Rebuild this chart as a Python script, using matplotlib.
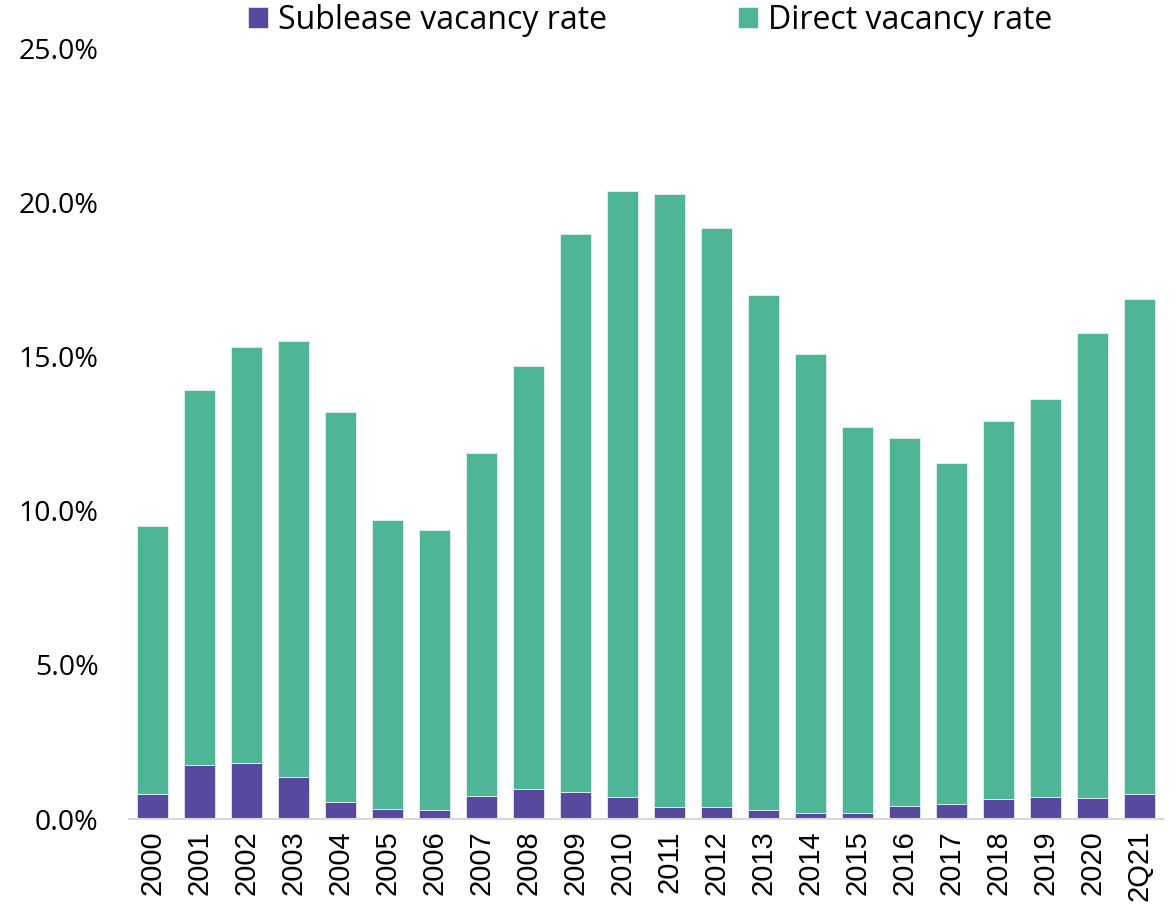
import numpy as np
import matplotlib.pyplot as plt
from matplotlib.ticker import FuncFormatter

years = ['2000', '2001', '2002', '2003', '2004', '2005', '2006', '2007', '2008', '2009', '2010',
         '2011', '2012', '2013', '2014', '2015', '2016', '2017', '2018', '2019', '2020', '2Q21']
total = [9.50, 13.90, 15.30, 15.50, 13.20, 9.70, 9.37, 11.87, 14.69, 18.97, 20.36,
         20.27, 19.16, 16.99, 15.08, 12.71, 12.35, 11.54, 12.90, 13.62, 15.76, 16.86]
sublease = [0.81, 1.75, 1.82, 1.36, 0.55, 0.32, 0.29, 0.75, 0.97, 0.88, 0.71,
            0.39, 0.39, 0.29, 0.20, 0.20, 0.42, 0.49, 0.65, 0.71, 0.68, 0.81]
direct = [t - s for t, s in zip(total, sublease)]

purple = '#574A9E'
green = '#4FB597'

fig = plt.figure(figsize=(11.75, 9.08), dpi=100)
ax = fig.add_axes([0.110, 0.098, 0.880, 0.849])

x = np.arange(len(years))
ax.bar(x, np.array(sublease) / 100, 0.66, color=purple, edgecolor='#E6E6F0', linewidth=0.6,
       label='Sublease vacancy rate')
ax.bar(x, np.array(direct) / 100, 0.66, bottom=np.array(sublease) / 100, color=green,
       edgecolor='#E6F2EE', linewidth=0.6, label='Direct vacancy rate')

ax.set_xlim(-0.5, len(years) - 0.5)
ax.set_ylim(0, 0.25)
ax.set_yticks(np.arange(0, 0.2501, 0.05))
ax.yaxis.set_major_formatter(FuncFormatter(lambda v, p: f'{v*100:.1f}%'))
ax.set_xticks(x)
ax.set_xticklabels(years, rotation=90, fontfamily='Liberation Sans', fontsize=21)
for lab in ax.get_yticklabels():
    lab.set_fontfamily('Open Sans')
    lab.set_fontsize(20.5)
ax.tick_params(axis='both', length=0)
ax.tick_params(axis='y', pad=22)
ax.tick_params(axis='x', pad=8)

for s in ['top', 'right', 'left']:
    ax.spines[s].set_visible(False)
ax.spines['bottom'].set_color('#D9D9D9')
ax.spines['bottom'].set_linewidth(1.5)

leg = ax.legend(loc='center', bbox_to_anchor=(0.504, 1.036), ncol=2, frameon=False,
                prop={'family': 'Open Sans', 'size': 23}, handlelength=0.63, handleheight=0.63,
                handletextpad=0.31, columnspacing=4.1)

fig.savefig('out.png', dpi=100)
